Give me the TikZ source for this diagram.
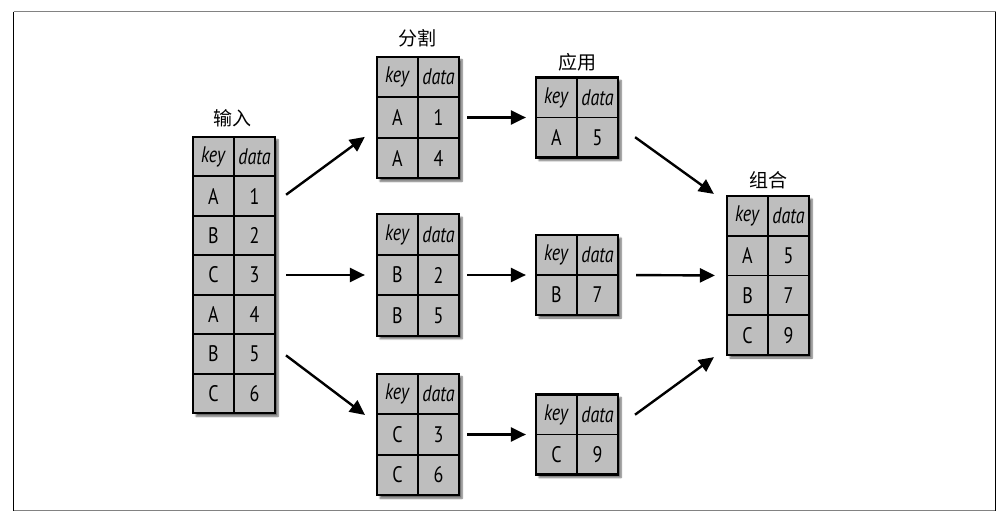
\documentclass[tikz,border=0pt]{standalone}
\usepackage{fontspec}
\usepackage{tikz}
\usetikzlibrary{arrows.meta,shadows.blur}
\newfontfamily\cjk{Noto Sans CJK SC}
\newfontfamily\cellfont[FakeStretch=0.8]{PT Sans}
\definecolor{CellGray}{RGB}{190,190,190}
\definecolor{FrameGray}{RGB}{130,130,130}

% one table: name, centre x, centre y, rows, row height, key/data rows
\newcommand{\datatab}[6]{%
  \node[tab,minimum height=#4*#5] (#1) at (#2,#3) {};
  \foreach \k/\d [count=\i from 0] in {\textit{key}/\textit{data},#6} {
    \node[cell,minimum height=#5] (#1-\i-k) at ({#2-20.5},{#3+(\i+0.5-#4/2)*#5}) {\k};
    \node[cell,minimum height=#5] (#1-\i-d) at ({#2+20.5},{#3+(\i+0.5-#4/2)*#5}) {\d};
  }
}

\begin{document}
\begin{tikzpicture}[x=1pt,y=-1pt,
  tab/.style={draw=black,line width=2.2pt,fill=CellGray,minimum width=82pt,inner sep=0pt,
    blur shadow={shadow xshift=3pt,shadow yshift=-3pt,shadow blur steps=6,shadow opacity=60}},
  cell/.style={draw=black,line width=1.8pt,minimum width=41pt,inner sep=0pt,
    font=\cellfont\fontsize{22.5}{22.5}\selectfont},
  lbl/.style={font=\cjk\fontsize{19}{19}\selectfont,inner sep=0pt},
  arr/.style={line width=2.4pt,-{Triangle[length=15pt,width=14pt]}}]
\useasboundingbox (0,0) rectangle (1002,522);
% frame
\draw[FrameGray,line width=1.5pt] (13.5,11.5) -- (995.5,11.5);
\draw[FrameGray,line width=1.5pt] (13.5,510.5) -- (995.5,510.5);
\draw[black,line width=1.5pt] (13.5,11.5) -- (13.5,510.5);
\draw[black,line width=1.5pt] (995.5,11.5) -- (995.5,510.5);

\datatab{in}{234}{275}{7}{39.5}{A/1,B/2,C/3,A/4,B/5,C/6}
\datatab{sp1}{418}{117.5}{3}{40.5}{A/1,A/4}
\datatab{sp2}{418}{275}{3}{40.5}{B/2,B/5}
\datatab{sp3}{418}{434.5}{3}{40.5}{C/3,C/6}
\datatab{ap1}{577}{117.5}{2}{40}{A/5}
\datatab{ap2}{577}{275}{2}{40}{B/7}
\datatab{ap3}{577}{434.5}{2}{40}{C/9}
\datatab{co}{768}{275.5}{4}{39.75}{A/5,B/7,C/9}

\node[lbl] (in-t) at (232,118) {输入};
\node[lbl] (sp-t) at (417,38) {分割};
\node[lbl] (ap-t) at (577,62) {应用};
\node[lbl] (co-t) at (768,180) {组合};

\draw[arr,shorten <=12.4pt,shorten >=13.7pt] (in.60) -- (sp1.195);
\draw[arr,shorten <=10pt,shorten >=11pt] (in.east) -- (sp2.west);
\draw[arr,shorten <=12.4pt,shorten >=13.7pt] (in.-60) -- (sp3.165);
\draw[arr,shorten <=7pt,shorten >=9pt] (sp1.east) -- (ap1.west);
\draw[arr,shorten <=7pt,shorten >=9pt] (sp2.east) -- (ap2.west);
\draw[arr,shorten <=7pt,shorten >=9pt] (sp3.east) -- (ap3.west);
\draw[arr,shorten <=19.7pt,shorten >=14.8pt] (ap1.-11) -- (co.120);
\draw[arr,shorten <=17pt,shorten >=11pt] (ap2.east) -- (co.west);
\draw[arr,shorten <=19.7pt,shorten >=14.8pt] (ap3.11) -- (co.-120);
\end{tikzpicture}
\end{document}
